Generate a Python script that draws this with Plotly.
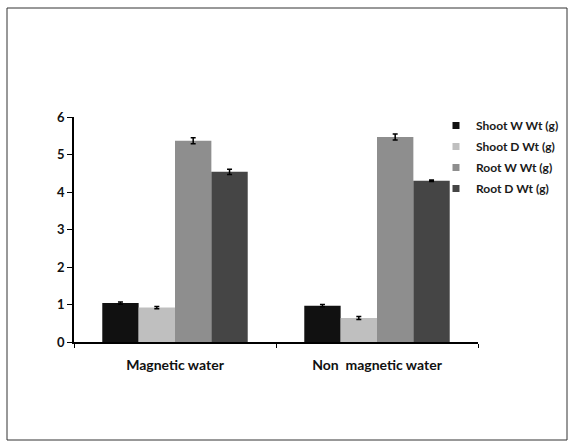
import plotly.graph_objects as go

categories = ["Magnetic water", "Non  magnetic water"]
series_names = ["Shoot W Wt (g)", "Shoot D Wt (g)", "Root W Wt (g)", "Root D Wt (g)"]
shoot_w = [1.04, 0.97]
shoot_d = [0.92, 0.64]
root_w = [5.37, 5.47]
root_d = [4.54, 4.30]
err_shoot_w = [0.03, 0.03]
err_shoot_d = [0.03, 0.04]
err_root_w = [0.08, 0.08]
err_root_d = [0.07, 0.02]
y_ticks = [0, 1, 2, 3, 4, 5, 6]

colors = ["#111111", "#bfbfbf", "#8e8e8e", "#454545"]
values = [shoot_w, shoot_d, root_w, root_d]
errors = [err_shoot_w, err_shoot_d, err_root_w, err_root_d]

FONT = "Lato, 'Open Sans', sans-serif"

fig = go.Figure()
for name, vals, errs, col in zip(series_names, values, errors, colors):
    fig.add_trace(go.Bar(
        x=categories, y=vals, name=name, showlegend=False, legendgroup=name,
        marker=dict(color=col, line=dict(width=0)),
        error_y=dict(type="data", array=errs, color="#000000", thickness=1.5, width=2.5),
    ))
# legend-only entries with small square swatches
for name, col in zip(series_names, colors):
    fig.add_trace(go.Scatter(
        x=[None], y=[None], mode="markers", name=name, legendgroup=name,
        marker=dict(symbol="square", size=7, color=col),
    ))

W, H = 570, 445
L, R, T, B = 74, 478, 117, 342
pw, ph = R - L, B - T

def px(x):
    return (x - L) / pw

def py(y):
    return (B - y) / ph

fig.update_layout(
    width=W, height=H,
    margin=dict(l=L, r=W - R, t=T, b=H - B, autoexpand=False),
    paper_bgcolor="white", plot_bgcolor="white",
    barmode="group", bargap=0.28, bargroupgap=0,
    font=dict(family=FONT, color="#111111"),
    showlegend=True,
    legend=dict(
        x=px(436), y=py(111), xanchor="left", yanchor="top",
        font=dict(family=FONT, size=12, color="#1a1a1a", weight="bold"),
        bgcolor="rgba(0,0,0,0)", itemwidth=30, tracegroupgap=2,
    ),
    xaxis=dict(
        showline=True, linecolor="#000000", linewidth=1.5,
        ticks="outside", tickson="boundaries", ticklen=4, tickcolor="#000000",
        tickfont=dict(family=FONT, size=14, color="#111111", weight="bold"),
        ticklabelstandoff=9,
        showgrid=False,
    ),
    yaxis=dict(
        range=[0, 6], tickvals=y_ticks,
        showline=True, linecolor="#000000", linewidth=1.5,
        ticks="outside", ticklen=5, tickcolor="#000000",
        tickfont=dict(family=FONT, size=13, color="#111111", weight="bold"),
        showgrid=False, zeroline=False,
    ),
    shapes=[dict(
        type="rect", xref="paper", yref="paper",
        x0=px(7), x1=px(567), y0=py(440), y1=py(8),
        line=dict(color="#333333", width=1), fillcolor="rgba(0,0,0,0)",
        layer="below",
    )],
)

fig.write_html("out.html")
